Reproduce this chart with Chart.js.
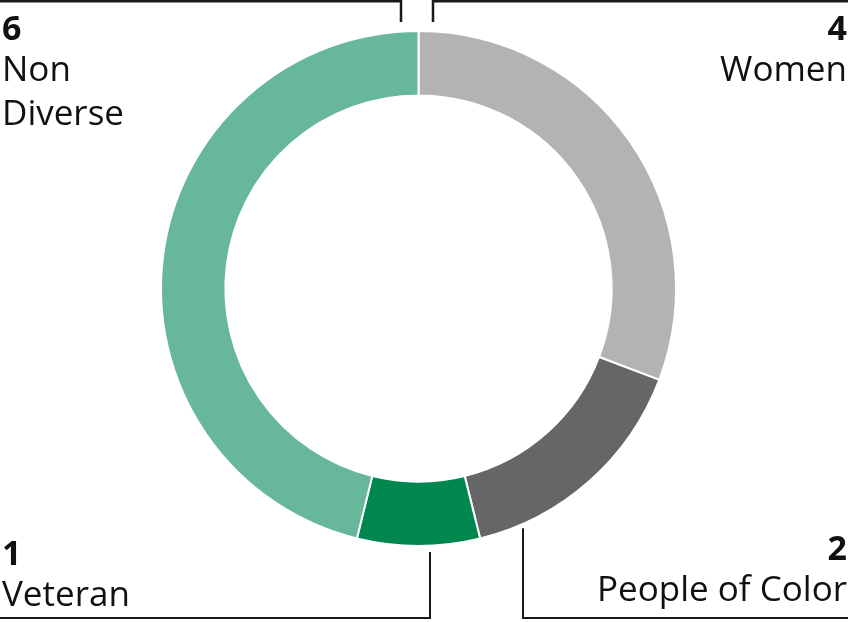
<!DOCTYPE html>
<html>
<head>
<meta charset="utf-8">
<script src="https://cdn.jsdelivr.net/npm/chart.js@4.4.1/dist/chart.umd.min.js"></script>
<style>
  html, body { margin: 0; padding: 0; background: #ffffff; }
  #wrap { position: relative; width: 848px; height: 622px; overflow: hidden; }
  #chart { position: absolute; left: 0; top: 0; }
  .lbl { position: absolute; color: #111111; font-family: "Open Sans", "Noto Sans", sans-serif; white-space: nowrap; }
  .lbl .num { font-weight: 700; font-size: 34px; line-height: 38px; }
  .lbl .txt { font-weight: 400; font-size: 35px; line-height: 44px; }
  .lbl.right { text-align: right; }
</style>
</head>
<body>
<div id="wrap">
  <canvas id="chart" width="848" height="622"></canvas>
</div>
<script>
// Board composition counts
const categories = ['Women', 'People of Color', 'Veteran', 'Non Diverse'];
const counts = [4, 2, 1, 6];
// Text lines for each category label
const labelLines = [['Women'], ['People of Color'], ['Veteran'], ['Non', 'Diverse']];

const sliceColors = ['#b3b3b3', '#666666', '#00874f', '#67b79a'];

// Label boxes: which corner each category sits in
const labelPlacement = [
  { side: 'right', top: 8 },     // Women
  { side: 'right', top: 528 },   // People of Color
  { side: 'left',  top: 533 },   // Veteran
  { side: 'left',  top: 8 }      // Non Diverse
];

const wrap = document.getElementById('wrap');
categories.forEach((cat, i) => {
  const p = labelPlacement[i];
  const div = document.createElement('div');
  div.className = 'lbl' + (p.side === 'right' ? ' right' : '');
  div.style.top = p.top + 'px';
  if (p.side === 'right') div.style.right = '1px'; else div.style.left = '2px';
  const num = document.createElement('div');
  num.className = 'num';
  num.textContent = String(counts[i]);
  div.appendChild(num);
  labelLines[i].forEach(line => {
    const t = document.createElement('div');
    t.className = 'txt';
    t.textContent = line;
    div.appendChild(t);
  });
  wrap.appendChild(div);
});

// Leader lines running from the ring out to the page edges
const leaderLines = {
  id: 'leaderLines',
  afterDraw(chart) {
    const arc = chart.getDatasetMeta(0).data[0];
    if (!arc) return;
    const cx = arc.x, cy = arc.y, r = arc.outerRadius;
    const W = chart.width, H = chart.height;
    const ctx = chart.ctx;
    ctx.save();
    ctx.strokeStyle = '#1a1a1a';
    ctx.lineCap = 'butt';
    ctx.lineJoin = 'miter';
    // top pair
    ctx.lineWidth = 2.5;
    ctx.beginPath();
    ctx.moveTo(0, 1.25); ctx.lineTo(cx - 17.5, 1.25); ctx.lineTo(cx - 17.5, cy - r - 9);
    ctx.moveTo(W, 1.25); ctx.lineTo(cx + 14.5, 1.25); ctx.lineTo(cx + 14.5, cy - r - 9);
    ctx.stroke();
    // bottom pair
    ctx.lineWidth = 2;
    ctx.beginPath();
    ctx.moveTo(cx + 11.5, cy + r + 6); ctx.lineTo(cx + 11.5, H - 4); ctx.lineTo(0, H - 4);
    ctx.moveTo(cx + 104.5, cy + Math.sqrt(r * r - 104.5 * 104.5) + 4.5); ctx.lineTo(cx + 104.5, H - 4); ctx.lineTo(W, H - 4);
    ctx.stroke();
    ctx.restore();
  }
};

new Chart(document.getElementById('chart'), {
  type: 'doughnut',
  data: {
    labels: categories,
    datasets: [{
      data: counts,
      backgroundColor: sliceColors,
      borderColor: '#ffffff',
      borderWidth: 2
    }]
  },
  options: {
    responsive: false,
    animation: false,
    cutout: '75%',
    layout: { padding: { top: 30, bottom: 75, left: 0, right: 11 } },
    plugins: {
      legend: { display: false },
      tooltip: { enabled: false }
    }
  },
  plugins: [leaderLines]
});
</script>
</body>
</html>
